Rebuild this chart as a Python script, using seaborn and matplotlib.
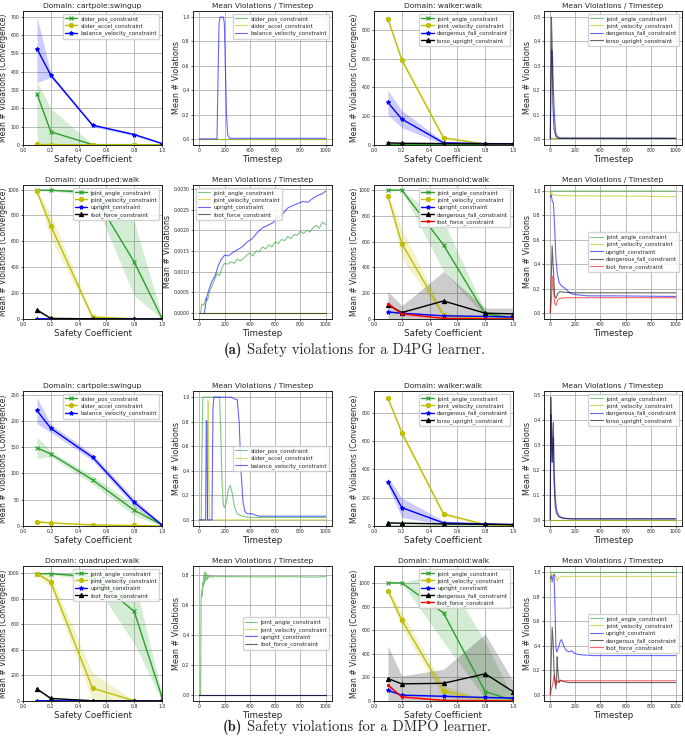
import matplotlib
matplotlib.use("Agg")
import matplotlib.pyplot as plt
import seaborn as sns

# safety coefficients (x axis of the convergence plots)
coef = [0.1, 0.2, 0.5, 0.8, 1.0]

# ====================================
# (a) D4PG learner
# ====================================

# cartpole:swingup at convergence
a_cp_pos = [280, 72, 2, 2, 0]
a_cp_pos_lo = [0, 0, 0, 0, 0]
a_cp_pos_hi = [345, 200, 4, 4, 0]
a_cp_acc = [3, 2, 1, 1, 0]
a_cp_acc_lo = [0, 0, 0, 0, 0]
a_cp_acc_hi = [6, 4, 2, 2, 0]
a_cp_bal = [525, 380, 108, 57, 8]
a_cp_bal_lo = [340, 368, 100, 50, 5]
a_cp_bal_hi = [700, 392, 116, 64, 11]

# walker:walk at convergence
a_wk_ang = [5, 4, 3, 2, 2]
a_wk_ang_lo = [3, 2, 1, 0, 0]
a_wk_ang_hi = [7, 6, 5, 4, 4]
a_wk_vel = [875, 590, 50, 6, 3]
a_wk_vel_lo = [865, 570, 40, 3, 1]
a_wk_vel_hi = [885, 610, 60, 9, 5]
a_wk_fall = [295, 180, 15, 10, 8]
a_wk_fall_lo = [210, 120, 5, 6, 5]
a_wk_fall_hi = [380, 240, 25, 14, 11]
a_wk_torso = [15, 12, 10, 8, 8]
a_wk_torso_lo = [10, 8, 7, 6, 6]
a_wk_torso_hi = [20, 16, 13, 10, 10]

# quadruped:walk at convergence
a_qd_ang = [995, 995, 975, 440, 5]
a_qd_ang_lo = [990, 990, 950, 180, 0]
a_qd_ang_hi = [1000, 1000, 1000, 750, 20]
a_qd_vel = [985, 720, 15, 2, 0]
a_qd_vel_lo = [975, 620, 0, 0, 0]
a_qd_vel_hi = [995, 810, 30, 4, 0]
a_qd_up = [2, 2, 1, 1, 0]
a_qd_up_lo = [0, 0, 0, 0, 0]
a_qd_up_hi = [4, 4, 2, 2, 0]
a_qd_foot = [70, 5, 1, 0, 0]
a_qd_foot_lo = [55, 2, 0, 0, 0]
a_qd_foot_hi = [85, 8, 2, 0, 0]

# humanoid:walk at convergence
a_hm_ang = [1000, 1000, 575, 40, 10]
a_hm_ang_lo = [1000, 1000, 370, 20, 0]
a_hm_ang_hi = [1000, 1000, 760, 60, 20]
a_hm_vel = [955, 585, 30, 5, 5]
a_hm_vel_lo = [940, 470, 15, 0, 0]
a_hm_vel_hi = [970, 700, 45, 10, 10]
a_hm_up = [55, 45, 25, 20, 15]
a_hm_up_lo = [50, 40, 20, 15, 10]
a_hm_up_hi = [60, 50, 30, 25, 20]
a_hm_fall = [110, 50, 140, 45, 40]
a_hm_fall_lo = [0, 0, 0, 20, 10]
a_hm_fall_hi = [214, 103, 368, 85, 85]
a_hm_foot = [120, 40, 5, 2, 0]
a_hm_foot_lo = [105, 30, 0, 0, 0]
a_hm_foot_hi = [135, 50, 10, 4, 0]

# violations over training timesteps
a_cpt_flat_t = [0, 1000]
a_cpt_flat_v = [0, 0]
a_cpt_bal_t = [0, 140, 148, 156, 165, 190, 198, 206, 215, 225, 240, 1000]
a_cpt_bal_v = [0, 0, 0.5, 0.95, 1.0, 1.0, 0.95, 0.6, 0.2, 0.03, 0.005, 0.005]

a_wkt_flat_t = [0, 1000]
a_wkt_flat_v = [0.002, 0.002]
a_wkt_fall_t = [0, 5, 12, 18, 25, 35, 45, 60, 80, 100, 1000]
a_wkt_fall_v = [0, 0.2, 0.365, 0.34, 0.2, 0.08, 0.02, 0.008, 0.004, 0.003, 0.003]
a_wkt_torso_t = [0, 5, 9, 14, 20, 30, 45, 60, 1000]
a_wkt_torso_v = [0, 0.3, 0.5, 0.4, 0.15, 0.04, 0.01, 0.003, 0.002]

a_qdt_flat_t = [0, 1000]
a_qdt_flat_v = [0, 0]
a_qdt_up_t = [40, 60, 80, 100, 125, 145, 170, 200, 230, 260, 300, 340, 380, 420,
              460, 500, 540, 580, 620, 660, 700, 740, 780, 820, 860, 900, 940, 970, 1000]
a_qdt_up_v = [0, 0.0004, 0.0006, 0.00077, 0.0009, 0.0011, 0.00128, 0.0014, 0.00138,
              0.00145, 0.00153, 0.0016, 0.00172, 0.0018, 0.00195, 0.00206, 0.00212,
              0.00218, 0.0023, 0.0024, 0.00254, 0.0026, 0.00265, 0.0027, 0.00268,
              0.00278, 0.00285, 0.00288, 0.00295]
a_qdt_ang_t = [10, 20, 35, 50, 65, 80, 100, 120, 140, 160, 180, 200, 225, 250, 275,
               300, 325, 350, 375, 400, 425, 450, 475, 500, 525, 550, 575, 600, 625,
               650, 675, 700, 725, 750, 775, 800, 825, 850, 875, 900, 925, 950, 975, 1000]
a_qdt_ang_v = [0, 0.00022, 0.00018, 0.00035, 0.0003, 0.0005, 0.00065, 0.0008, 0.00095,
               0.0009, 0.0011, 0.0012, 0.00118, 0.00124, 0.0012, 0.0013, 0.00126,
               0.00132, 0.0014, 0.00145, 0.00138, 0.0015, 0.00148, 0.0016, 0.00155,
               0.00165, 0.0016, 0.00172, 0.00168, 0.00178, 0.00175, 0.00185, 0.0018,
               0.0019, 0.00188, 0.00198, 0.00192, 0.002, 0.00196, 0.00206, 0.00212,
               0.00205, 0.0022, 0.00214]

a_hmt_ang_t = [0, 5, 1000]
a_hmt_ang_v = [0.99, 1.0, 1.0]
a_hmt_vel_t = [0, 5, 20, 40, 60, 100, 1000]
a_hmt_vel_v = [0.96, 1.0, 0.97, 0.965, 0.965, 0.963, 0.955]
a_hmt_up_t = [0, 8, 15, 25, 35, 45, 55, 70, 90, 120, 160, 200, 300, 500, 1000]
a_hmt_up_v = [0.95, 0.97, 0.92, 0.9, 0.7, 0.45, 0.33, 0.25, 0.22, 0.2, 0.16, 0.15, 0.14, 0.14, 0.135]
a_hmt_fall_t = [0, 8, 15, 25, 35, 45, 60, 75, 100, 200, 1000]
a_hmt_fall_v = [0, 0.3, 0.55, 0.35, 0.14, 0.12, 0.16, 0.175, 0.17, 0.165, 0.165]
a_hmt_foot_t = [0, 10, 18, 25, 35, 45, 60, 80, 120, 1000]
a_hmt_foot_v = [0, 0.12, 0.3, 0.2, 0.08, 0.06, 0.11, 0.12, 0.125, 0.125]

# ====================================
# (b) DMPO learner
# ====================================

b_cp_pos = [149, 137, 88, 30, 2]
b_cp_pos_lo = [128, 132, 80, 20, 0]
b_cp_pos_hi = [170, 142, 96, 40, 4]
b_cp_acc = [8, 6, 2, 1, 0]
b_cp_acc_lo = [6, 5, 1, 0, 0]
b_cp_acc_hi = [10, 7, 3, 2, 0]
b_cp_bal = [220, 186, 131, 45, 2]
b_cp_bal_lo = [195, 178, 125, 38, 0]
b_cp_bal_hi = [245, 194, 137, 52, 4]

b_wk_ang = [2, 2, 2, 2, 2]
b_wk_ang_lo = [0, 0, 0, 0, 0]
b_wk_ang_hi = [4, 4, 4, 4, 4]
b_wk_vel = [905, 660, 85, 10, 5]
b_wk_vel_lo = [895, 640, 70, 5, 2]
b_wk_vel_hi = [915, 680, 100, 15, 8]
b_wk_fall = [312, 130, 22, 15, 10]
b_wk_fall_lo = [280, 60, 10, 10, 6]
b_wk_fall_hi = [345, 200, 35, 20, 14]
b_wk_torso = [22, 20, 15, 12, 10]
b_wk_torso_lo = [18, 16, 12, 9, 7]
b_wk_torso_hi = [26, 24, 18, 15, 13]

b_qd_ang = [995, 995, 970, 700, 30]
b_qd_ang_lo = [990, 990, 940, 450, 0]
b_qd_ang_hi = [1000, 1000, 1000, 950, 60]
b_qd_vel = [995, 930, 100, 2, 0]
b_qd_vel_lo = [990, 880, 0, 0, 0]
b_qd_vel_hi = [1000, 980, 220, 4, 0]
b_qd_up = [2, 2, 1, 1, 0]
b_qd_up_lo = [0, 0, 0, 0, 0]
b_qd_up_hi = [4, 4, 2, 2, 0]
b_qd_foot = [95, 20, 2, 0, 0]
b_qd_foot_lo = [85, 10, 0, 0, 0]
b_qd_foot_hi = [105, 30, 4, 0, 0]

b_hm_ang = [1000, 1000, 745, 80, 5]
b_hm_ang_lo = [1000, 1000, 500, 20, 0]
b_hm_ang_hi = [1000, 1000, 1090, 500, 30]
b_hm_vel = [935, 685, 85, 5, 5]
b_hm_vel_lo = [915, 620, 30, 0, 0]
b_hm_vel_hi = [955, 750, 130, 10, 10]
b_hm_up = [90, 50, 40, 30, 25]
b_hm_up_lo = [80, 45, 35, 25, 20]
b_hm_up_hi = [100, 55, 45, 35, 30]
b_hm_fall = [190, 145, 150, 230, 80]
b_hm_fall_lo = [0, 0, 0, 0, 0]
b_hm_fall_hi = [467, 212, 269, 567, 170]
b_hm_foot = [135, 35, 5, 3, 0]
b_hm_foot_lo = [120, 25, 0, 0, 0]
b_hm_foot_hi = [150, 45, 10, 6, 0]

b_cpt_pos_t = [0, 15, 20, 28, 160, 170, 180, 190, 200, 215, 230, 245, 260, 280, 300, 340, 400, 1000]
b_cpt_pos_v = [0, 0, 0.5, 1.0, 1.0, 0.7, 0.3, 0.12, 0.1, 0.15, 0.25, 0.28, 0.22, 0.1, 0.05, 0.03, 0.02, 0.02]
b_cpt_acc_t = [0, 65, 70, 74, 80, 1000]
b_cpt_acc_v = [0, 0, 0.97, 0.5, 0, 0]
b_cpt_bal_t = [0, 50, 55, 60, 65, 100, 108, 115, 250, 280, 300, 315, 330, 345, 360,
               380, 400, 420, 440, 470, 1000]
b_cpt_bal_v = [0, 0, 0.81, 0.8, 0, 0, 0.9, 1.0, 1.0, 0.985, 0.98, 0.8, 0.4, 0.15, 0.07,
               0.05, 0.05, 0.05, 0.04, 0.03, 0.03]

b_wkt_flat_t = [0, 1000]
b_wkt_flat_v = [0, 0]
b_wkt_fall_t = [0, 4, 10, 15, 20, 25, 30, 40, 50, 70, 100, 150, 200, 1000]
b_wkt_fall_v = [0.0, 0.42, 0.3, 0.23, 0.3, 0.33, 0.2, 0.09, 0.04, 0.015, 0.008, 0.005, 0.004, 0.004]
b_wkt_torso_t = [0, 4, 10, 15, 20, 25, 30, 40, 50, 70, 100, 150, 1000]
b_wkt_torso_v = [0, 0.49, 0.35, 0.23, 0.35, 0.39, 0.15, 0.05, 0.025, 0.012, 0.006, 0.004, 0.004]

b_qdt_flat_t = [0, 1000]
b_qdt_flat_v = [0, 0]
b_qdt_ang_t = [0, 10, 14, 18, 22, 26, 30, 35, 40, 45, 50, 55, 60, 65, 70, 80, 90, 100,
               110, 120, 140, 160, 200, 300, 500, 700, 900, 1000]
b_qdt_ang_v = [0, 0, 0.63, 0.7, 0.66, 0.75, 0.72, 0.8, 0.74, 0.82, 0.76, 0.81, 0.77, 0.8,
               0.78, 0.8, 0.785, 0.795, 0.785, 0.795, 0.788, 0.792, 0.79, 0.79, 0.788,
               0.79, 0.787, 0.79]

b_hmt_ang_t = [0, 1000]
b_hmt_ang_v = [1.0, 1.0]
b_hmt_vel_t = [0, 5, 15, 25, 35, 45, 55, 70, 90, 120, 1000]
b_hmt_vel_v = [0.92, 1.0, 0.97, 0.98, 0.985, 0.96, 0.93, 0.955, 0.965, 0.965, 0.965]
b_hmt_up_t = [0, 8, 15, 22, 30, 38, 45, 52, 60, 70, 80, 90, 100, 115, 130, 150, 170,
              190, 220, 260, 350, 500, 1000]
b_hmt_up_v = [0.95, 0.97, 0.92, 0.96, 0.98, 0.7, 0.38, 0.35, 0.37, 0.4, 0.44, 0.45,
              0.42, 0.38, 0.36, 0.35, 0.36, 0.34, 0.33, 0.325, 0.32, 0.32, 0.32]
b_hmt_fall_t = [0, 8, 15, 22, 30, 38, 45, 50, 55, 60, 70, 80, 100, 150, 1000]
b_hmt_fall_v = [0, 0.3, 0.55, 0.45, 0.2, 0.1, 0.05, 0.15, 0.31, 0.2, 0.1, 0.12, 0.11, 0.1, 0.1]
b_hmt_foot_t = [0, 10, 20, 30, 38, 45, 55, 65, 80, 100, 1000]
b_hmt_foot_v = [0, 0.05, 0.09, 0.16, 0.12, 0.08, 0.12, 0.1, 0.115, 0.115, 0.115]

# ====================================
# PLOTTING
# ====================================

G, Y, B, K, R = "#2ca02c", "#bfbf00", "#0000ff", "#000000", "#ff0000"
W, H = 685, 743

sns.set_style("whitegrid", {"grid.color": "#b0b0b0", "axes.edgecolor": "#222222",
                            "xtick.bottom": True, "ytick.left": True})
plt.rcParams.update({"grid.linewidth": 0.6, "axes.linewidth": 0.7,
                     "xtick.major.size": 1.5, "ytick.major.size": 1.5,
                     "xtick.major.width": 0.5, "ytick.major.width": 0.5,
                     "font.family": ["DejaVu Sans"]})

fig = plt.figure(figsize=(W / 100, H / 100), dpi=100)


def rect(l, t, r, b):
    return [l / W, 1 - b / H, (r - l) / W, (b - t) / H]


def finish(ax, title, xlabel, ylabel, loc):
    ax.set_title(title, fontsize=5.4, pad=2)
    ax.set_xlabel(xlabel, fontsize=6.3, labelpad=1)
    ax.set_ylabel(ylabel, fontsize=5.8, labelpad=0.8)
    ax.tick_params(labelsize=3.3, pad=1.0)
    ax.legend(loc=loc, fontsize=4.0, framealpha=0.85, edgecolor="#cccccc",
              borderpad=0.4, labelspacing=0.3, handlelength=2.2, handletextpad=0.6)


def coef_panel(box, title, series, ytop):
    ax = fig.add_axes(rect(*box))
    for name, col, mk, mean, lo, hi in series:
        ax.fill_between(coef, lo, hi, color=col, alpha=0.2, lw=0)
        sns.lineplot(x=coef, y=mean, color=col, marker=mk, markersize=3.0,
                     markeredgecolor=col, markeredgewidth=0.8, linewidth=1,
                     label=name, ax=ax)
    ax.set_xlim(0, 1)
    ax.set_ylim(0, ytop)
    finish(ax, title, "Safety Coefficient", "Mean # Violations (Convergence)", "upper right")
    ax.yaxis.label.set_fontsize(5.5)
    ax.yaxis.set_label_coords(-14.5 / (box[2] - box[0]), 0.5)


def ts_panel(box, series, loc):
    ax = fig.add_axes(rect(*box))
    for name, col, t, v in series:
        sns.lineplot(x=t, y=v, color=col, alpha=0.6, linewidth=0.8, label=name,
                     estimator=None, sort=False, ax=ax)
    finish(ax, "Mean Violations / Timestep", "Timestep", "Mean # Violations", loc)


c1, c2, c3, c4 = (23, 162), (193, 332), (374, 513), (544, 682)
rows = [(11, 145), (185, 319), (391, 526), (566, 701)]

# --- (a) D4PG ---
coef_panel((c1[0], rows[0][0], c1[1], rows[0][1]), "Domain: cartpole:swingup", [
    ("slider_pos_constraint", G, "x", a_cp_pos, a_cp_pos_lo, a_cp_pos_hi),
    ("slider_accel_constraint", Y, "o", a_cp_acc, a_cp_acc_lo, a_cp_acc_hi),
    ("balance_velocity_constraint", B, "*", a_cp_bal, a_cp_bal_lo, a_cp_bal_hi)], 730)
ts_panel((c2[0], rows[0][0], c2[1], rows[0][1]), [
    ("slider_pos_constraint", G, a_cpt_flat_t, a_cpt_flat_v),
    ("slider_accel_constraint", Y, a_cpt_flat_t, a_cpt_flat_v),
    ("balance_velocity_constraint", B, a_cpt_bal_t, a_cpt_bal_v)], "upper right")
coef_panel((c3[0], rows[0][0], c3[1], rows[0][1]), "Domain: walker:walk", [
    ("joint_angle_constraint", G, "x", a_wk_ang, a_wk_ang_lo, a_wk_ang_hi),
    ("joint_velocity_constraint", Y, "o", a_wk_vel, a_wk_vel_lo, a_wk_vel_hi),
    ("dangerous_fall_constraint", B, "*", a_wk_fall, a_wk_fall_lo, a_wk_fall_hi),
    ("torso_upright_constraint", K, "^", a_wk_torso, a_wk_torso_lo, a_wk_torso_hi)], 930)
ts_panel((c4[0], rows[0][0], c4[1], rows[0][1]), [
    ("joint_angle_constraint", G, a_wkt_flat_t, a_wkt_flat_v),
    ("joint_velocity_constraint", Y, a_wkt_flat_t, a_wkt_flat_v),
    ("dangerous_fall_constraint", B, a_wkt_fall_t, a_wkt_fall_v),
    ("torso_upright_constraint", K, a_wkt_torso_t, a_wkt_torso_v)], "upper right")

coef_panel((c1[0], rows[1][0], c1[1], rows[1][1]), "Domain: quadruped:walk", [
    ("joint_angle_constraint", G, "x", a_qd_ang, a_qd_ang_lo, a_qd_ang_hi),
    ("joint_velocity_constraint", Y, "o", a_qd_vel, a_qd_vel_lo, a_qd_vel_hi),
    ("upright_constraint", B, "*", a_qd_up, a_qd_up_lo, a_qd_up_hi),
    ("foot_force_constraint", K, "^", a_qd_foot, a_qd_foot_lo, a_qd_foot_hi)], 1035)
ts_panel((c2[0], rows[1][0], c2[1], rows[1][1]), [
    ("joint_angle_constraint", G, a_qdt_ang_t, a_qdt_ang_v),
    ("joint_velocity_constraint", Y, a_qdt_flat_t, a_qdt_flat_v),
    ("upright_constraint", B, a_qdt_up_t, a_qdt_up_v),
    ("foot_force_constraint", K, a_qdt_flat_t, a_qdt_flat_v)], "upper left")
coef_panel((c3[0], rows[1][0], c3[1], rows[1][1]), "Domain: humanoid:walk", [
    ("joint_angle_constraint", G, "x", a_hm_ang, a_hm_ang_lo, a_hm_ang_hi),
    ("joint_velocity_constraint", Y, "o", a_hm_vel, a_hm_vel_lo, a_hm_vel_hi),
    ("upright_constraint", B, "*", a_hm_up, a_hm_up_lo, a_hm_up_hi),
    ("dangerous_fall_constraint", K, "^", a_hm_fall, a_hm_fall_lo, a_hm_fall_hi),
    ("foot_force_constraint", R, ".", a_hm_foot, a_hm_foot_lo, a_hm_foot_hi)], 1040)
ts_panel((c4[0], rows[1][0], c4[1], rows[1][1]), [
    ("joint_angle_constraint", G, a_hmt_ang_t, a_hmt_ang_v),
    ("joint_velocity_constraint", Y, a_hmt_vel_t, a_hmt_vel_v),
    ("upright_constraint", B, a_hmt_up_t, a_hmt_up_v),
    ("dangerous_fall_constraint", K, a_hmt_fall_t, a_hmt_fall_v),
    ("foot_force_constraint", R, a_hmt_foot_t, a_hmt_foot_v)], "center right")

# --- (b) DMPO ---
coef_panel((c1[0], rows[2][0], c1[1], rows[2][1]), "Domain: cartpole:swingup", [
    ("slider_pos_constraint", G, "x", b_cp_pos, b_cp_pos_lo, b_cp_pos_hi),
    ("slider_accel_constraint", Y, "o", b_cp_acc, b_cp_acc_lo, b_cp_acc_hi),
    ("balance_velocity_constraint", B, "*", b_cp_bal, b_cp_bal_lo, b_cp_bal_hi)], 257)
ts_panel((c2[0], rows[2][0], c2[1], rows[2][1]), [
    ("slider_pos_constraint", G, b_cpt_pos_t, b_cpt_pos_v),
    ("slider_accel_constraint", Y, b_cpt_acc_t, b_cpt_acc_v),
    ("balance_velocity_constraint", B, b_cpt_bal_t, b_cpt_bal_v)], "center right")
coef_panel((c3[0], rows[2][0], c3[1], rows[2][1]), "Domain: walker:walk", [
    ("joint_angle_constraint", G, "x", b_wk_ang, b_wk_ang_lo, b_wk_ang_hi),
    ("joint_velocity_constraint", Y, "o", b_wk_vel, b_wk_vel_lo, b_wk_vel_hi),
    ("dangerous_fall_constraint", B, "*", b_wk_fall, b_wk_fall_lo, b_wk_fall_hi),
    ("torso_upright_constraint", K, "^", b_wk_torso, b_wk_torso_lo, b_wk_torso_hi)], 955)
ts_panel((c4[0], rows[2][0], c4[1], rows[2][1]), [
    ("joint_angle_constraint", G, b_wkt_flat_t, b_wkt_flat_v),
    ("joint_velocity_constraint", Y, b_wkt_flat_t, b_wkt_flat_v),
    ("dangerous_fall_constraint", B, b_wkt_fall_t, b_wkt_fall_v),
    ("torso_upright_constraint", K, b_wkt_torso_t, b_wkt_torso_v)], "upper right")

coef_panel((c1[0], rows[3][0], c1[1], rows[3][1]), "Domain: quadruped:walk", [
    ("joint_angle_constraint", G, "x", b_qd_ang, b_qd_ang_lo, b_qd_ang_hi),
    ("joint_velocity_constraint", Y, "o", b_qd_vel, b_qd_vel_lo, b_qd_vel_hi),
    ("upright_constraint", B, "*", b_qd_up, b_qd_up_lo, b_qd_up_hi),
    ("foot_force_constraint", K, "^", b_qd_foot, b_qd_foot_lo, b_qd_foot_hi)], 1055)
ts_panel((c2[0], rows[3][0], c2[1], rows[3][1]), [
    ("joint_angle_constraint", G, b_qdt_ang_t, b_qdt_ang_v),
    ("joint_velocity_constraint", Y, b_qdt_flat_t, b_qdt_flat_v),
    ("upright_constraint", B, b_qdt_flat_t, b_qdt_flat_v),
    ("foot_force_constraint", K, b_qdt_flat_t, b_qdt_flat_v)], "center right")
coef_panel((c3[0], rows[3][0], c3[1], rows[3][1]), "Domain: humanoid:walk", [
    ("joint_angle_constraint", G, "x", b_hm_ang, b_hm_ang_lo, b_hm_ang_hi),
    ("joint_velocity_constraint", Y, "o", b_hm_vel, b_hm_vel_lo, b_hm_vel_hi),
    ("upright_constraint", B, "*", b_hm_up, b_hm_up_lo, b_hm_up_hi),
    ("dangerous_fall_constraint", K, "^", b_hm_fall, b_hm_fall_lo, b_hm_fall_hi),
    ("foot_force_constraint", R, ".", b_hm_foot, b_hm_foot_lo, b_hm_foot_hi)], 1143)
ts_panel((c4[0], rows[3][0], c4[1], rows[3][1]), [
    ("joint_angle_constraint", G, b_hmt_ang_t, b_hmt_ang_v),
    ("joint_velocity_constraint", Y, b_hmt_vel_t, b_hmt_vel_v),
    ("upright_constraint", B, b_hmt_up_t, b_hmt_up_v),
    ("dangerous_fall_constraint", K, b_hmt_fall_t, b_hmt_fall_v),
    ("foot_force_constraint", R, b_hmt_foot_t, b_hmt_foot_v)], "center right")

# captions
for y_px, tag, txt in [(350, "(a)", "Safety violations for a D4PG learner."),
                       (727, "(b)", "Safety violations for a DMPO learner.")]:
    fig.text(242 / W, 1 - y_px / H, tag, family="cmb10", fontsize=10.5, ha="right", va="center")
    fig.text(247 / W, 1 - y_px / H, txt, family="cmr10", fontsize=10.5, ha="left", va="center")

fig.savefig("out.png", dpi=100)
